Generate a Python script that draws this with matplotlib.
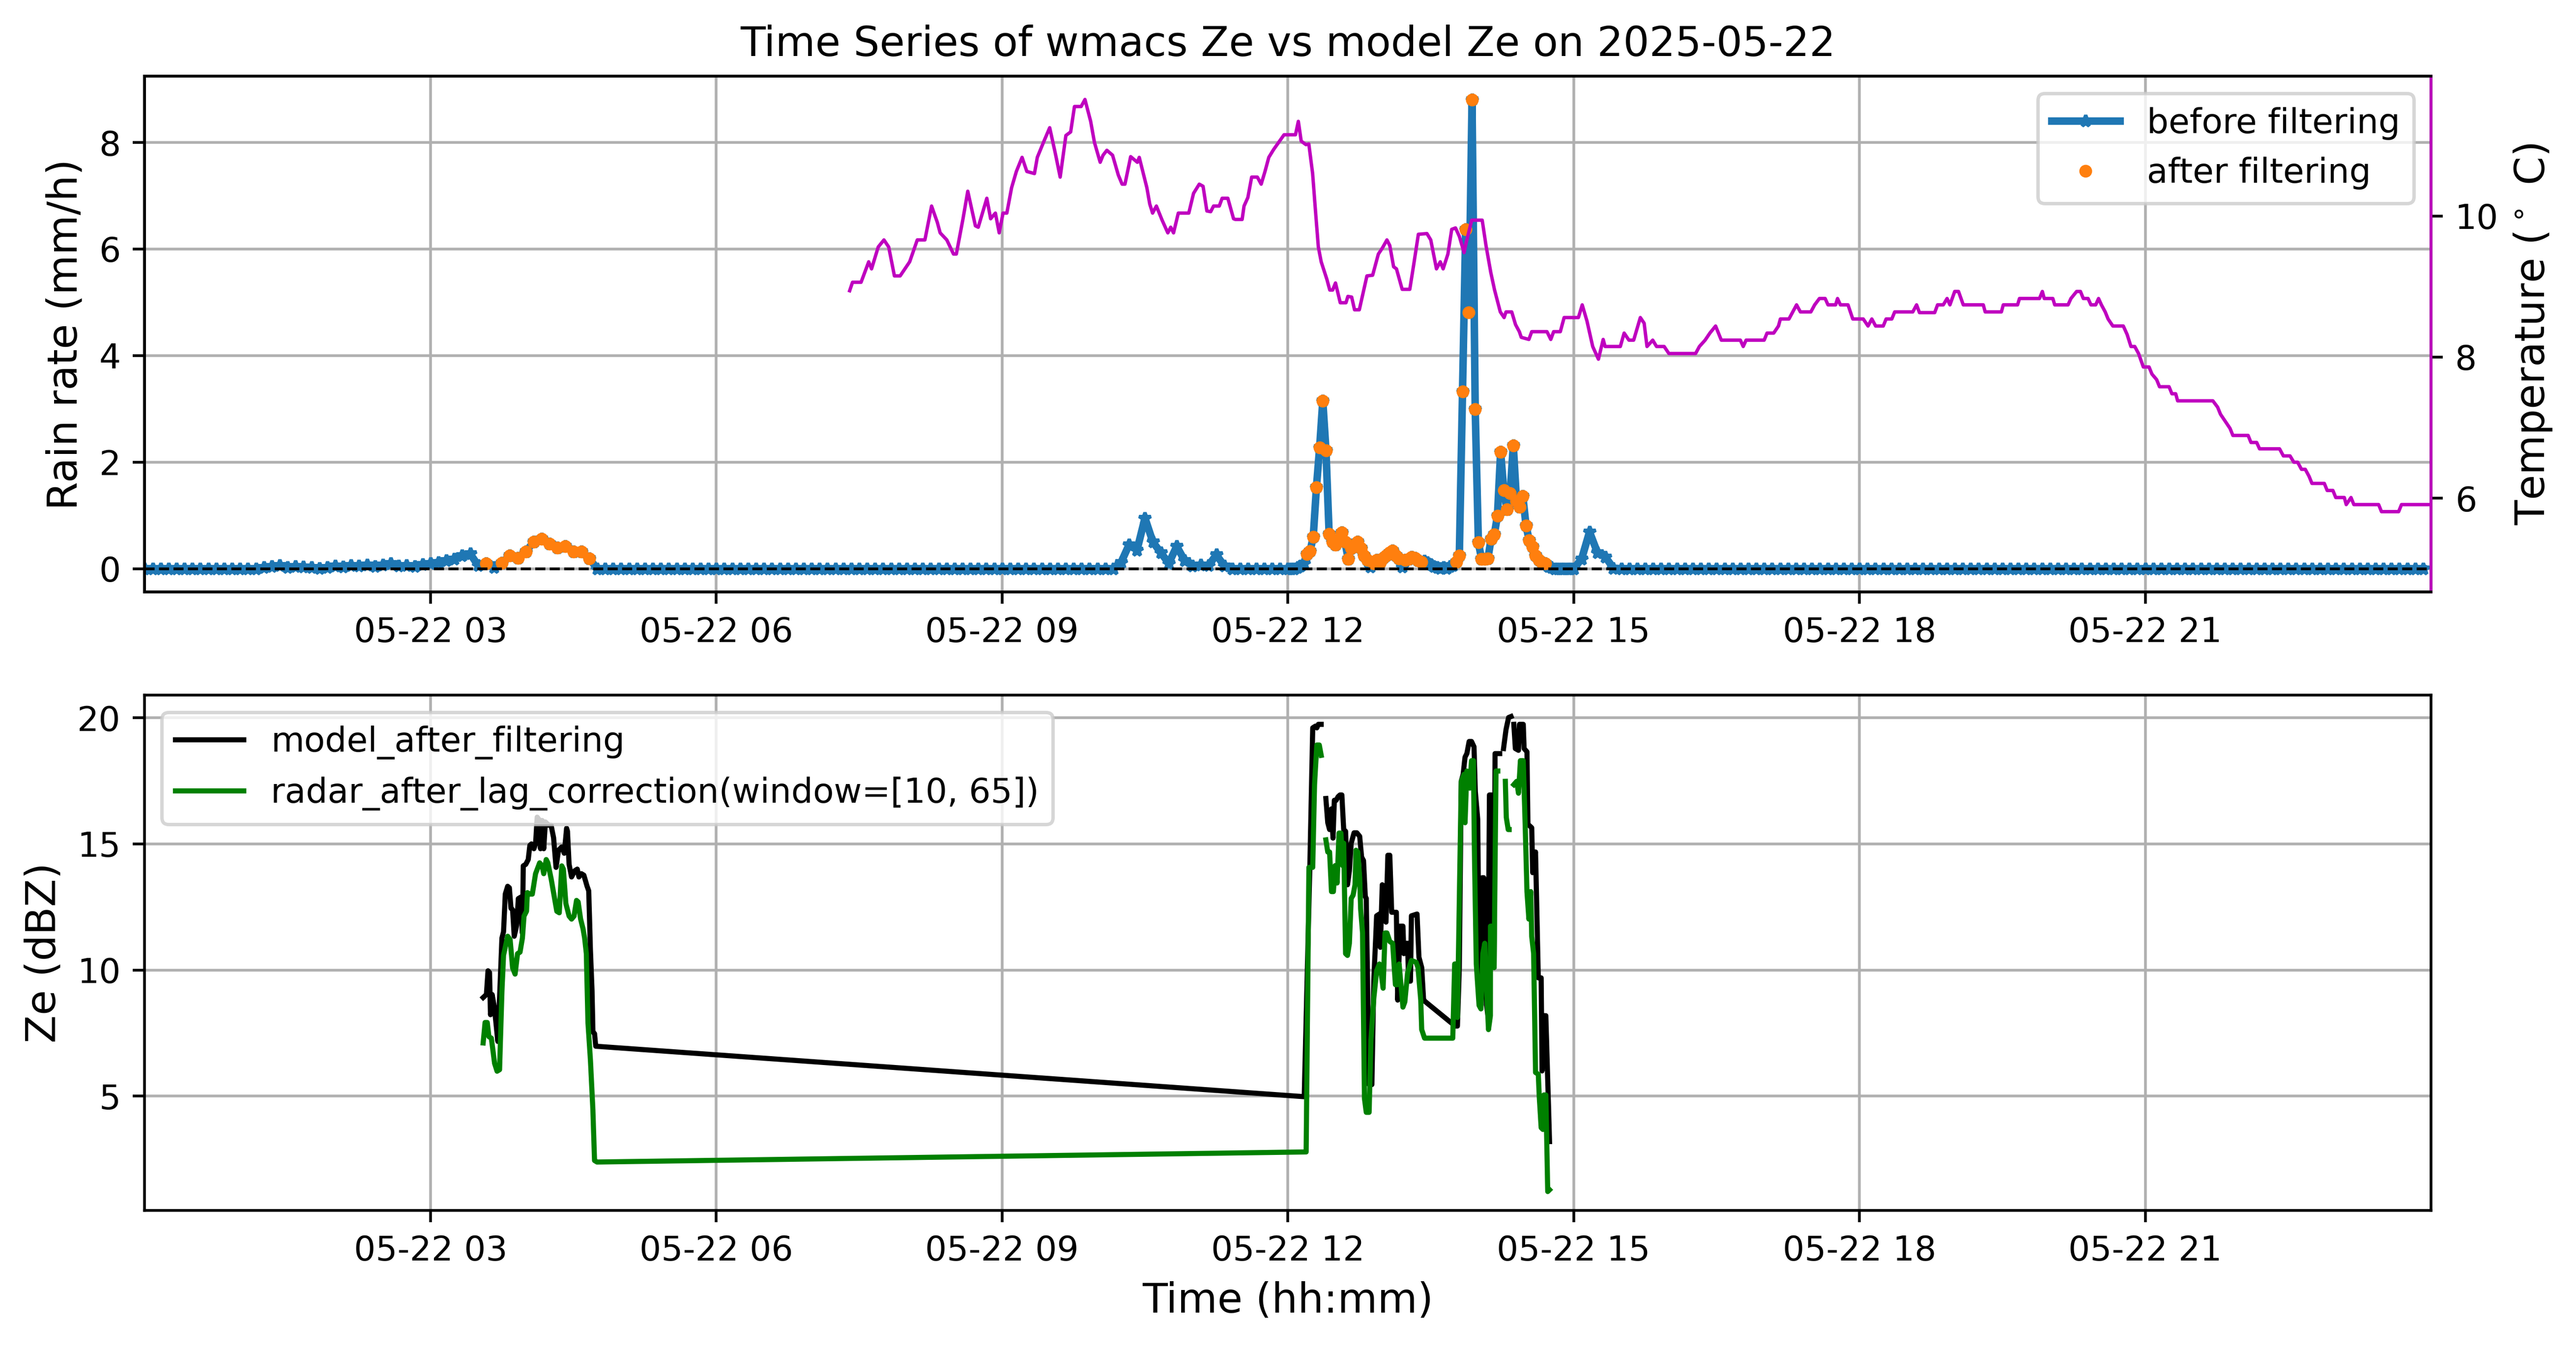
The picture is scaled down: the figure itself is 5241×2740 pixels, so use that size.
import numpy as np
import pandas as pd
import matplotlib
matplotlib.use("Agg")
import matplotlib.pyplot as plt
import matplotlib.dates as mdates

DAY = "2025-05-22"

# ---------------- rain rate (mm/h) before filtering ----------------
# 00:00-11:55 every 5 min (one row per hour)
rain_am = [
    0, 0, 0, 0, 0, 0, 0, 0, 0, 0, 0, 0,                                  # 00
    0, 0, 0, 0.02, 0.04, 0.06, 0.02, 0.04, 0.03, 0.02, 0.01, 0.02,       # 01
    0.05, 0.03, 0.06, 0.05, 0.07, 0.04, 0.07, 0.10, 0.05, 0.06, 0.04, 0.08,  # 02
    0.10, 0.12, 0.15, 0.18, 0.25, 0.28, 0.06, 0.10, 0.02, 0.11, 0.25, 0.20,  # 03
    0.32, 0.50, 0.56, 0.47, 0.39, 0.42, 0.32, 0.32, 0.19, 0, 0, 0,       # 04
    0, 0, 0, 0, 0, 0, 0, 0, 0, 0, 0, 0,                                  # 05
    0, 0, 0, 0, 0, 0, 0, 0, 0, 0, 0, 0,                                  # 06
    0, 0, 0, 0, 0, 0, 0, 0, 0, 0, 0, 0,                                  # 07
    0, 0, 0, 0, 0, 0, 0, 0, 0, 0, 0, 0,                                  # 08
    0, 0, 0, 0, 0, 0, 0, 0, 0, 0, 0, 0,                                  # 09
    0, 0, 0, 0.12, 0.45, 0.35, 0.95, 0.50, 0.30, 0.10, 0.42, 0.15,       # 10
    0.05, 0.07, 0.06, 0.26, 0.05, 0, 0, 0, 0, 0, 0, 0,                   # 11
]
# 12:00-14:58 every 2 min
rain_mid = [
    0, 0, 0, 0.02, 0.05, 0.10, 0.27, 0.33, 0.60, 1.53,
    2.27, 3.15, 2.22, 0.65, 0.50, 0.45, 0.55, 0.68, 0.50, 0.18,
    0.38, 0.45, 0.50, 0.38, 0.25, 0.16, 0.03, 0.10, 0.16, 0.12,
    0.20, 0.25, 0.30, 0.34, 0.25, 0.19, 0.03, 0.16, 0.18, 0.22,
    0.20, 0.15, 0.13, 0.14, 0.12, 0.08, 0.04, 0.02, 0.01, 0.02,
    0.01, 0.04, 0.06, 0.13, 0.25, 3.33, 6.37, 4.81, 8.80, 2.99,
    0.49, 0.18, 0.18, 0.19, 0.56, 0.64, 0.99, 2.19, 1.47, 1.11,
    1.42, 2.31, 1.27, 1.16, 1.36, 0.81, 0.53, 0.41, 0.25, 0.16,
    0.12, 0.10, 0.04, 0.02, 0, 0, 0, 0, 0, 0,
]
# 15:00-23:55 every 5 min
rain_pm = [
    0, 0.18, 0.69, 0.30, 0.22, 0.01, 0, 0, 0, 0, 0, 0,                  # 15
    0, 0, 0, 0, 0, 0, 0, 0, 0, 0, 0, 0,                                  # 16
    0, 0, 0, 0, 0, 0, 0, 0, 0, 0, 0, 0,                                  # 17
    0, 0, 0, 0, 0, 0, 0, 0, 0, 0, 0, 0,                                  # 18
    0, 0, 0, 0, 0, 0, 0, 0, 0, 0, 0, 0,                                  # 19
    0, 0, 0, 0, 0, 0, 0, 0, 0, 0, 0, 0,                                  # 20
    0, 0, 0, 0, 0, 0, 0, 0, 0, 0, 0, 0,                                  # 21
    0, 0, 0, 0, 0, 0, 0, 0, 0, 0, 0, 0,                                  # 22
    0, 0, 0, 0, 0, 0, 0, 0, 0, 0, 0, 0,                                  # 23
]
# time windows (hours) of samples kept after filtering
filter_windows = [(3.55, 3.60), (3.70, 4.70), (12.19, 12.85), (12.88, 13.18),
                  (13.22, 13.42), (13.75, 14.71)]

# ---------------- temperature (deg C) ----------------
temp_h = [7.40, 7.43, 7.52, 7.60, 7.63, 7.70, 7.76, 7.81, 7.87, 7.93, 8.03, 8.11, 8.19,
          8.26, 8.32, 8.35, 8.42, 8.49, 8.52, 8.59, 8.64, 8.72, 8.75, 8.84, 8.88, 8.93,
          8.97, 9.01, 9.05, 9.10, 9.15, 9.21, 9.26, 9.34, 9.37, 9.44, 9.50, 9.56, 9.61,
          9.67, 9.72, 9.76, 9.83, 9.87, 9.93, 9.97, 10.03, 10.06, 10.10, 10.16, 10.22,
          10.26, 10.29, 10.35, 10.42, 10.44, 10.52, 10.55, 10.58, 10.62, 10.68, 10.74,
          10.77, 10.80, 10.85, 10.96, 11.01, 11.07, 11.11, 11.15, 11.19, 11.22, 11.28,
          11.31, 11.37, 11.43, 11.45, 11.52, 11.54, 11.58, 11.62, 11.68, 11.72, 11.76,
          11.80, 11.85, 11.96, 12.08, 12.11, 12.14, 12.19, 12.22, 12.26, 12.29, 12.32,
          12.35, 12.41, 12.44, 12.47, 12.50, 12.55, 12.61, 12.63, 12.67, 12.70, 12.75,
          12.83, 12.89, 12.95, 12.99, 13.04, 13.07, 13.11, 13.14, 13.20, 13.28, 13.32,
          13.37, 13.46, 13.50, 13.56, 13.60, 13.63, 13.68, 13.72, 13.76, 13.80, 13.85,
          13.87, 13.93, 14.04, 14.08, 14.13, 14.17, 14.23, 14.27, 14.29, 14.35, 14.39,
          14.43, 14.45, 14.53, 14.56, 14.72, 14.76, 14.79, 14.86, 14.90, 15.05, 15.09,
          15.14, 15.20, 15.26, 15.31, 15.33, 15.49, 15.53, 15.58, 15.63, 15.70, 15.74,
          15.77, 15.83, 15.87, 15.95, 16.00, 16.28, 16.32, 16.38, 16.43, 16.49, 16.55,
          16.75, 16.78, 16.81, 17.00, 17.03, 17.10, 17.15, 17.17, 17.26, 17.30, 17.34,
          17.38, 17.49, 17.53, 17.58, 17.64, 17.67, 17.75, 17.77, 17.80, 17.88, 17.93,
          18.04, 18.09, 18.13, 18.17, 18.25, 18.28, 18.34, 18.37, 18.56, 18.60, 18.63,
          18.79, 18.82, 18.88, 18.92, 18.95, 19.00, 19.04, 19.09, 19.30, 19.32, 19.49,
          19.51, 19.66, 19.68, 19.89, 19.92, 19.94, 20.03, 20.05, 20.19, 20.22, 20.28,
          20.32, 20.35, 20.40, 20.43, 20.48, 20.51, 20.54, 20.58, 20.61, 20.66, 20.77,
          20.81, 20.85, 20.89, 20.93, 20.98, 21.04, 21.07, 21.12, 21.15, 21.25, 21.28,
          21.32, 21.34, 21.71, 21.76, 21.79, 21.84, 21.89, 21.92, 22.08, 22.11, 22.17,
          22.20, 22.41, 22.45, 22.52, 22.56, 22.60, 22.64, 22.68, 22.72, 22.75, 22.88,
          22.91, 22.97, 23.00, 23.09, 23.11, 23.16, 23.19, 23.45, 23.48, 23.66, 23.69,
          23.99]
temp_v = [8.94, 9.06, 9.06, 9.35, 9.25, 9.56, 9.66, 9.56, 9.15, 9.15, 9.35, 9.66, 9.66,
          10.14, 9.91, 9.76, 9.66, 9.46, 9.46, 9.96, 10.35, 9.86, 9.84, 10.25, 9.96, 10.04,
          9.76, 10.04, 10.04, 10.40, 10.63, 10.83, 10.63, 10.60, 10.83, 11.06, 11.25, 10.88, 10.55,
          11.14, 11.19, 11.55, 11.55, 11.65, 11.34, 11.04, 10.76, 10.86, 10.93, 10.86, 10.58,
          10.45, 10.45, 10.84, 10.76, 10.83, 10.40, 10.17, 10.04, 10.14, 9.94, 9.76,
          9.84, 9.76, 10.04, 10.04, 10.32, 10.45, 10.42, 10.07, 10.06, 10.14, 10.14,
          10.25, 10.25, 9.96, 9.95, 9.95, 10.14, 10.26, 10.55, 10.55, 10.45, 10.63,
          10.83, 10.94, 11.15, 11.15, 11.34, 11.06, 11.01, 11.02, 10.60, 10.07, 9.56,
          9.35, 9.10, 8.95, 8.95, 9.05, 8.77, 8.77, 8.86, 8.85, 8.67, 8.67,
          9.15, 9.16, 9.46, 9.54, 9.66, 9.58, 9.28, 9.25, 8.96, 8.96, 9.30,
          9.74, 9.75, 9.66, 9.25, 9.35, 9.25, 9.46, 9.81, 9.83, 9.71, 9.48,
          9.61, 9.94, 9.94, 9.58, 9.20, 8.95, 8.64, 8.56, 8.64, 8.64, 8.46,
          8.36, 8.28, 8.25, 8.36, 8.36, 8.25, 8.36, 8.36, 8.56, 8.56, 8.74,
          8.51, 8.15, 7.97, 8.25, 8.15, 8.15, 8.34, 8.24, 8.24, 8.56, 8.48,
          8.15, 8.24, 8.15, 8.15, 8.05, 8.05, 8.15, 8.24, 8.34, 8.44, 8.24,
          8.24, 8.15, 8.24, 8.24, 8.34, 8.34, 8.44, 8.54, 8.54, 8.64, 8.74,
          8.64, 8.64, 8.74, 8.83, 8.83, 8.74, 8.74, 8.83, 8.74, 8.74, 8.54,
          8.54, 8.44, 8.54, 8.44, 8.44, 8.54, 8.54, 8.64, 8.64, 8.74, 8.63,
          8.63, 8.74, 8.74, 8.83, 8.74, 8.93, 8.93, 8.74, 8.74, 8.64, 8.64,
          8.74, 8.74, 8.83, 8.83, 8.93, 8.83, 8.83, 8.74, 8.74, 8.83, 8.93,
          8.93, 8.83, 8.83, 8.74, 8.74, 8.83, 8.74, 8.64, 8.54, 8.44, 8.44,
          8.32, 8.15, 8.15, 8.05, 7.86, 7.86, 7.76, 7.68, 7.58, 7.58, 7.48,
          7.48, 7.38, 7.38, 7.29, 7.19, 7.09, 6.99, 6.89, 6.89, 6.79, 6.79,
          6.70, 6.70, 6.60, 6.60, 6.51, 6.51, 6.41, 6.41, 6.31, 6.21, 6.21,
          6.11, 6.11, 6.01, 6.01, 5.91, 6.01, 5.91, 5.91, 5.81, 5.81, 5.91,
          5.91]

# ---------------- Ze (dBZ) ----------------
nan = np.nan
model_h = [3.553, 3.587, 3.604, 3.620, 3.630, 3.647, 3.670, 3.707, 3.750, 3.767, 3.785, 3.810,
           3.828, 3.845, 3.862, 3.879, 3.905, 3.922, 3.948, 3.965, 3.974, 4.000, 4.026, 4.043,
           4.060, 4.086, 4.103, 4.120, 4.146, 4.155, 4.172, 4.189, 4.206, 4.240, 4.266, 4.292,
           4.318, 4.344, 4.378, 4.404, 4.429, 4.438, 4.455, 4.481, 4.516, 4.541, 4.558, 4.584,
           4.610, 4.644, 4.661, 4.679, 4.696, 4.705, 4.722, 4.735,
           12.172, 12.231, 12.261, 12.290, 12.304, 12.320, 12.350, 12.375,
           12.399, 12.419, 12.438, 12.458, 12.474, 12.488, 12.507, 12.527, 12.547, 12.567,
           12.586, 12.606, 12.626, 12.646, 12.665, 12.695, 12.724, 12.754, 12.774, 12.794,
           12.813, 12.823, 12.853, 12.882, 12.902, 12.932, 12.961, 12.971, 12.991, 13.011,
           13.030, 13.050, 13.070, 13.090, 13.139, 13.153, 13.178, 13.208, 13.218, 13.238,
           13.257, 13.267, 13.287, 13.297, 13.356, 13.376, 13.405, 13.425, 13.445, 13.711,
           13.761, 13.780, 13.800, 13.820, 13.840, 13.860, 13.879, 13.903, 13.928, 13.954,
           13.968, 13.993, 14.007, 14.027, 14.041, 14.056, 14.072, 14.086, 14.100, 14.116,
           14.139, 14.151, 14.165, 14.175, 14.224, 14.244,
           14.264, 14.290, 14.317, 14.343, 14.358,
           14.372, 14.388, 14.421, 14.431, 14.471, 14.480, 14.510, 14.520, 14.560, 14.570,
           14.600, 14.629, 14.659, 14.668, 14.678, 14.708, 14.747]
model_ze = [8.91, 9.03, 9.97, 9.90, 8.23, 9.03, 8.54, 7.17, 11.27, 11.52, 13.01, 13.32,
            13.26, 12.45, 12.39, 11.34, 11.77, 12.83, 12.89, 11.46, 14.13, 14.19, 14.38, 14.94,
            15.00, 14.81, 15.00, 16.06, 15.93, 14.81, 15.93, 14.81, 15.87, 15.74, 15.74, 15.25,
            14.07, 14.75, 14.88, 14.63, 15.62, 15.50, 14.19, 13.69, 13.94, 14.00, 13.69, 13.82,
            13.76, 13.32, 13.14, 10.78, 9.16, 7.55, 7.48, 6.98,
            4.98, 14.14, 19.60, 19.67, 19.60, 19.74, 19.74, nan,
            16.80, 15.84, 15.57, 16.39, 15.23, 16.73, 16.73, 16.87, 16.94, 16.94,
            15.57, 15.50, 13.38, 13.93, 15.03, 15.44, 15.44, 15.30, 14.48, 14.34,
            12.91, 12.84, 5.46, 5.46, 9.56, 12.15, 12.22, 10.90, 13.38, 13.32,
            11.90, 14.55, 14.55, 12.29, 12.29, 8.81, 11.74, 11.74, 10.65, 11.06,
            11.06, 9.56, 9.56, 12.15, 12.22, 10.51, 10.10, 8.81, 8.74, 7.92,
            7.78, 7.78, 10.10, 17.48, 17.76, 18.44, 18.58, 19.06, 19.06, 18.85,
            17.07, 15.98, 10.24, 8.60, 13.66, 13.66, 11.20, 8.60, 8.19, 16.94,
            16.94, 12.43, 10.10, 18.58, 18.58, nan,
            18.78, 19.53, 20.01, 20.05, nan,
            19.74, 18.78, 18.71, 19.74, 19.74, 18.78, 18.65, 15.78, 15.64, 13.86,
            14.68, 9.69, 9.69, 6.00, 8.19, 8.19, 3.20]

radar_h = [3.553, 3.573, 3.596, 3.613, 3.639, 3.673, 3.699, 3.725, 3.750, 3.767, 3.810, 3.836,
           3.862, 3.888, 3.914, 3.940, 3.965, 3.982, 4.008, 4.017, 4.043, 4.069, 4.103, 4.146,
           4.172, 4.189, 4.215, 4.232, 4.266, 4.300, 4.326, 4.352, 4.378, 4.395, 4.421, 4.455,
           4.481, 4.507, 4.533, 4.550, 4.576, 4.601, 4.618, 4.636, 4.653, 4.679, 4.705, 4.722,
           4.748,
           12.192, 12.221, 12.261, 12.280, 12.304, 12.330, 12.350, 12.375,
           12.399, 12.419, 12.438, 12.458, 12.478, 12.497, 12.517, 12.537, 12.557, 12.576,
           12.586, 12.606, 12.626, 12.646, 12.665, 12.685, 12.705, 12.715, 12.734, 12.754,
           12.764, 12.784, 12.804, 12.823, 12.853, 12.872, 12.902, 12.932, 12.961, 12.981,
           13.000, 13.020, 13.040, 13.070, 13.100, 13.129, 13.149, 13.168, 13.208, 13.228,
           13.257, 13.297, 13.346, 13.366, 13.395, 13.405, 13.435, 13.731, 13.751, 13.761,
           13.780, 13.820, 13.850, 13.860, 13.879, 13.909, 13.928, 13.948, 13.958, 13.978,
           14.007, 14.027, 14.047, 14.067, 14.086, 14.106, 14.126, 14.127, 14.146, 14.165,
           14.185, 14.204, 14.240,
           14.283, 14.293, 14.313, 14.323, 14.345,
           14.372, 14.402, 14.421, 14.441, 14.471, 14.491, 14.510, 14.530, 14.550, 14.560,
           14.580, 14.600, 14.629, 14.639, 14.659, 14.678, 14.688, 14.708, 14.728, 14.747]
radar_ze = [7.11, 7.92, 7.92, 7.36, 7.30, 6.30, 5.99, 6.05, 9.16, 10.59, 11.34, 11.21,
            10.09, 9.84, 10.65, 10.71, 11.27, 12.14, 12.33, 13.07, 13.01, 13.01, 13.82, 14.25,
            14.13, 13.82, 14.38, 14.25, 13.63, 12.89, 12.33, 12.27, 14.13, 14.00, 12.64, 12.14,
            12.02, 12.14, 12.76, 12.70, 12.02, 11.64, 11.27, 10.65, 7.92, 6.43, 4.44, 2.45,
            2.39,
            2.79, 14.07, 14.07, 17.35, 18.92, 18.92, 18.51, nan,
            15.16, 14.68, 14.68, 13.11, 13.11, 14.14, 13.45, 15.43, 15.43, 14.14,
            15.03, 10.65, 10.58, 11.06, 12.84, 12.97, 13.38, 14.75, 14.68, 13.66,
            12.43, 11.47, 4.91, 4.36, 4.36, 7.23, 8.87, 9.97, 10.24, 9.83,
            9.28, 11.47, 11.47, 11.13, 11.06, 9.42, 9.42, 10.24, 8.53, 8.74,
            9.90, 10.38, 10.31, 10.10, 8.81, 7.64, 7.30, 7.30, 10.24, 10.24,
            8.12, 17.48, 17.76, 15.84, 17.89, 17.21, 18.30, 18.30, 14.75, 10.24,
            8.60, 8.46, 10.65, 11.06, 9.28, 7.64, 8.19, 11.74, 11.74, 10.10,
            17.89, 17.89, nan,
            17.48, 16.05, 15.57, 15.57, nan,
            17.35, 17.48, 17.01, 18.30, 18.30, 15.78, 13.11, 12.02, 13.11, 11.33,
            10.65, 5.94, 5.87, 4.98, 3.75, 3.68, 5.05, 5.05, 1.22, 1.29]

# ---------------- build time axes ----------------
day0 = pd.Timestamp(DAY)
def to_time(hours):
    return day0 + pd.to_timedelta(np.asarray(hours, dtype=float), unit="h")

rain_time = (pd.date_range(f"{DAY} 00:00", f"{DAY} 11:55", freq="5min")
             .append(pd.date_range(f"{DAY} 12:00", f"{DAY} 14:58", freq="2min"))
             .append(pd.date_range(f"{DAY} 15:00", f"{DAY} 23:55", freq="5min")))
rain_before = np.array(rain_am + rain_mid + rain_pm, dtype=float)
rain_hours = (rain_time - day0).total_seconds().values / 3600.0
keep = np.zeros(len(rain_hours), dtype=bool)
for a, b in filter_windows:
    keep |= (rain_hours >= a) & (rain_hours <= b)

# ---------------- figure ----------------
W, H, DPI = 5241, 2740, 500
fig = plt.figure(figsize=(W / DPI, H / DPI), dpi=DPI)
ax1 = fig.add_axes([0.05617, 0.5601, 0.88755, 0.3833])
ax3 = fig.add_axes([0.05617, 0.1007, 0.88755, 0.3829])

ax1.plot(rain_time, rain_before, "*-", color="#1f77b4", lw=2.2, ms=3.5,
         label="before filtering", zorder=2)
ax1.plot(rain_time[keep], rain_before[keep], ".", color="#ff7f0e", ms=5.5,
         label="after filtering", zorder=2.1)
ax1.axhline(0, color="k", ls="--", lw=0.8, zorder=2.2)
ax1.grid(True)
ax1.set_ylabel("Rain rate (mm/h)", fontsize=12)
ax1.set_title(f"Time Series of wmacs Ze vs model Ze on {DAY}", fontsize=12)
ax1.set_ylim(-0.44, 9.245)
ax1.set_yticks([0, 2, 4, 6, 8])
ax1.legend(loc="upper right", fontsize=10)

ax2 = ax1.twinx()
ax2.plot(to_time(temp_h), temp_v, color="m", lw=1.0)
ax2.set_ylabel(r"Temperature ($^\circ$ C)", fontsize=12)
ax2.set_ylim(4.67, 11.98)
ax2.set_yticks([6, 8, 10])
ax2.spines["right"].set_color("m")
ax2.tick_params(axis="y", labelsize=10)

ax3.plot(to_time(model_h), model_ze, color="k", lw=1.5, label="model_after_filtering")
ax3.plot(to_time(radar_h), radar_ze, color="g", lw=1.5,
         label="radar_after_lag_correction(window=[10, 65])")
ax3.grid(True)
ax3.set_ylabel("Ze (dBZ)", fontsize=12)
ax3.set_xlabel("Time (hh:mm)", fontsize=12)
ax3.set_ylim(0.47, 20.90)
ax3.set_yticks([5, 10, 15, 20])
ax3.legend(loc="upper left", fontsize=10)

for ax in (ax1, ax3):
    ax.set_xlim(day0, day0 + pd.Timedelta(hours=24))
    ax.xaxis.set_major_locator(mdates.HourLocator(byhour=range(3, 24, 3)))
    ax.xaxis.set_major_formatter(mdates.DateFormatter("%m-%d %H"))
    ax.tick_params(labelsize=10)
ax2.set_xlim(day0, day0 + pd.Timedelta(hours=24))

fig.savefig("out.png", dpi=DPI)
